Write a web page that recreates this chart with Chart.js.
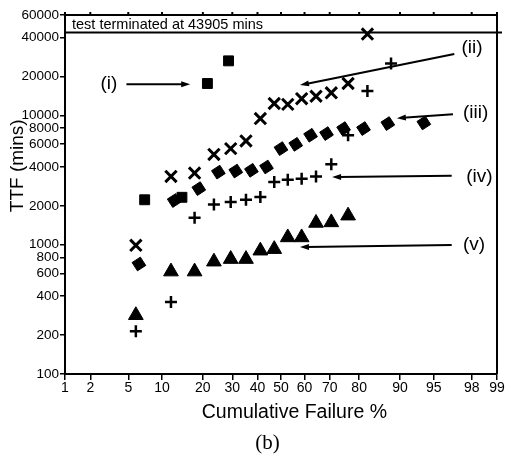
<!DOCTYPE html>
<html>
<head>
<meta charset="utf-8">
<script src="https://cdn.jsdelivr.net/npm/chart.js@4/dist/chart.umd.min.js"></script>
<style>
  html, body { margin: 0; padding: 0; background: #fff; }
  #wrap { width: 511px; height: 459px; }
</style>
</head>
<body>
<div id="wrap"><canvas id="ttfChart" width="511" height="459"></canvas></div>
<script>
// cumulative failure (%) and time to failure (mins)
const pctTicks = [1, 2, 5, 10, 20, 30, 40, 50, 60, 70, 80, 90, 95, 98, 99];
const ttfTicks = [100, 200, 400, 600, 800, 1000, 2000, 4000, 6000, 8000, 10000, 20000, 40000, 60000];
const terminatedAt = 43905;

const squarePct = [7.1, 14.3, 21.4, 28.6];
const squareTtf = [2230, 2330, 17700, 26500];

const crossPct = [5.9, 11.8, 17.6, 23.5, 29.4, 35.3, 41.2, 47.1, 52.9, 58.8, 64.7, 70.6, 76.5, 82.4];
const crossTtf = [990, 3380, 3590, 5000, 5550, 6360, 9480, 12400, 12200, 13500, 14100, 15000, 17700, 42700];

const diamondPct = [6.3, 12.5, 18.8, 25, 31.3, 37.5, 43.8, 50, 56.3, 62.5, 68.8, 75, 81.3, 87.5, 93.8];
const diamondTtf = [710, 2200, 2720, 3650, 3720, 3770, 4000, 5550, 5990, 7040, 7250, 7930, 7930, 8670, 8770];

const plusPct = [5.9, 11.8, 17.6, 23.5, 29.4, 35.3, 41.2, 47.1, 52.9, 58.8, 64.7, 70.6, 76.5, 82.4, 88.2];
const plusTtf = [214, 360, 1620, 2050, 2140, 2230, 2340, 3060, 3190, 3250, 3380, 4200, 7040, 15500, 25300];

const trianglePct = [5.9, 11.8, 17.6, 23.5, 29.4, 35.3, 41.2, 47.1, 52.9, 58.8, 64.7, 70.6, 76.5];
const triangleTtf = [285, 620, 620, 740, 775, 775, 900, 925, 1140, 1140, 1475, 1490, 1680];

// labels with arrows, in data units (pct, mins)
const labels = [
  { text: '(i)',   at: [3.9, 17500],  align: 'right', from: [4.8, 17500],  to: [16.4, 17500] },
  { text: '(ii)',  at: [97.4, 33200], align: 'left',  from: [96.9, 29900], to: [58.1, 17200] },
  { text: '(iii)', at: [97.5, 10600], align: 'left',  from: [96.8, 10240], to: [89.4, 9530] },
  { text: '(iv)',  at: [97.7, 3380],  align: 'left',  from: [96.7, 3415],  to: [70.9, 3340] },
  { text: '(v)',   at: [97.5, 1005],  align: 'left',  from: [96.7, 995],   to: [58.1, 961] }
];

// inverse normal cdf (Acklam)
function probit(p) {
  const a = [-3.969683028665376e+01, 2.209460984245205e+02, -2.759285104469687e+02, 1.383577518672690e+02, -3.066479806614716e+01, 2.506628277459239e+00];
  const b = [-5.447609879822406e+01, 1.615858368580409e+02, -1.556989798598866e+02, 6.680131188771972e+01, -1.328068155288572e+01];
  const c = [-7.784894002430293e-03, -3.223964580411365e-01, -2.400758277161838e+00, -2.549671324298062e+00, 4.374664141464968e+00, 2.938163982698783e+00];
  const d = [7.784695709041462e-03, 3.224671290700398e-01, 2.445134137142996e+00, 3.754408661907416e+00];
  const pl = 0.02425;
  let q, r;
  if (p < pl) {
    q = Math.sqrt(-2 * Math.log(p));
    return (((((c[0]*q+c[1])*q+c[2])*q+c[3])*q+c[4])*q+c[5]) / ((((d[0]*q+d[1])*q+d[2])*q+d[3])*q+1);
  }
  if (p <= 1 - pl) {
    q = p - 0.5; r = q * q;
    return (((((a[0]*r+a[1])*r+a[2])*r+a[3])*r+a[4])*r+a[5])*q / (((((b[0]*r+b[1])*r+b[2])*r+b[3])*r+b[4])*r+1);
  }
  q = Math.sqrt(-2 * Math.log(1 - p));
  return -(((((c[0]*q+c[1])*q+c[2])*q+c[3])*q+c[4])*q+c[5]) / ((((d[0]*q+d[1])*q+d[2])*q+d[3])*q+1);
}

function normCdf(z) {
  const t = 1 / (1 + 0.3275911 * Math.abs(z) / Math.SQRT2);
  const y = 1 - (((((1.061405429*t - 1.453152027)*t) + 1.421413741)*t - 0.284496736)*t + 0.254829592)*t*Math.exp(-z*z/2);
  return z >= 0 ? 0.5 * (1 + y) : 0.5 * (1 - y);
}

// normal probability paper axis
class ProbabilityScale extends Chart.Scale {
  determineDataLimits() {
    this.min = this.options.min ?? 1;
    this.max = this.options.max ?? 99;
  }
  buildTicks() {
    return pctTicks.map(v => ({ value: v }));
  }
  getLabelForValue(v) {
    return String(v);
  }
  getPixelForValue(v) {
    const z0 = probit(this.min / 100), z1 = probit(this.max / 100);
    return this.getPixelForDecimal((probit(v / 100) - z0) / (z1 - z0));
  }
  getValueForPixel(px) {
    const z0 = probit(this.min / 100), z1 = probit(this.max / 100);
    return 100 * normCdf(z0 + this.getDecimalForPixel(px) * (z1 - z0));
  }
}
ProbabilityScale.id = 'probability';
ProbabilityScale.defaults = {};
Chart.register(ProbabilityScale);

function points(xs, ys) {
  return xs.map((x, i) => ({ x: x, y: ys[i] }));
}

const sans = 'Liberation Sans, Arial, sans-serif';

const decorPlugin = {
  id: 'decor',
  afterDatasetsDraw(chart) {
    const { ctx, chartArea: a, scales: { x, y } } = chart;
    ctx.save();
    ctx.strokeStyle = '#000';
    ctx.fillStyle = '#000';
    ctx.lineWidth = 2;
    ctx.beginPath();
    ctx.moveTo(a.left, a.top);
    ctx.lineTo(a.right, a.top);
    ctx.lineTo(a.right, a.bottom);
    x.ticks.forEach((t, i) => {
      const px = x.getPixelForTick(i);
      ctx.moveTo(px, a.top);
      ctx.lineTo(px, a.top - 3);
    });
    const yl = y.getPixelForValue(terminatedAt);
    ctx.moveTo(a.left, yl);
    ctx.lineTo(a.right + 5, yl);
    ctx.stroke();

    ctx.font = '14.5px ' + sans;
    ctx.textBaseline = 'middle';
    ctx.textAlign = 'left';
    ctx.fillText('test terminated at ' + terminatedAt + ' mins', a.left + 7, (a.top + yl) / 2 + 1);

    // axis titles and caption, placed as in the original figure
    ctx.textAlign = 'center';
    ctx.font = '19.5px ' + sans;
    ctx.fillText('Cumulative Failure %', a.left + 0.531 * (a.right - a.left), a.bottom + 39);
    ctx.font = '21px Liberation Serif, Times New Roman, serif';
    ctx.fillText('(b)', a.left + 0.469 * (a.right - a.left), a.bottom + 69);

    ctx.save();
    ctx.translate(18, a.top + 0.42 * (a.bottom - a.top));
    ctx.rotate(-Math.PI / 2);
    ctx.font = '19px ' + sans;
    ctx.fillText('TTF (mins)', 0, 0);
    ctx.restore();

    ctx.font = '19px ' + sans;
    labels.forEach(l => {
      ctx.textAlign = l.align;
      ctx.fillText(l.text, x.getPixelForValue(l.at[0]), y.getPixelForValue(l.at[1]));
      const x0 = x.getPixelForValue(l.from[0]), y0 = y.getPixelForValue(l.from[1]);
      const x1 = x.getPixelForValue(l.to[0]), y1 = y.getPixelForValue(l.to[1]);
      const ang = Math.atan2(y1 - y0, x1 - x0);
      ctx.lineWidth = 2;
      ctx.beginPath();
      ctx.moveTo(x0, y0);
      ctx.lineTo(x1 - 6 * Math.cos(ang), y1 - 6 * Math.sin(ang));
      ctx.stroke();
      ctx.beginPath();
      ctx.moveTo(x1, y1);
      ctx.lineTo(x1 - 9 * Math.cos(ang) + 3 * Math.sin(ang), y1 - 9 * Math.sin(ang) - 3 * Math.cos(ang));
      ctx.lineTo(x1 - 9 * Math.cos(ang) - 3 * Math.sin(ang), y1 - 9 * Math.sin(ang) + 3 * Math.cos(ang));
      ctx.closePath();
      ctx.fill();
    });
    ctx.restore();
  }
};

document.addEventListener('DOMContentLoaded', function() {
  const ctx = document.getElementById('ttfChart');
  new Chart(ctx, {
    type: 'scatter',
    data: {
      datasets: [
        { label: '(i)', data: points(squarePct, squareTtf), pointStyle: 'rect', pointRadius: 7,
          backgroundColor: '#000', borderColor: '#000', borderWidth: 1 },
        { label: '(ii)', data: points(crossPct, crossTtf), pointStyle: 'crossRot', pointRadius: 8,
          backgroundColor: '#000', borderColor: '#000', borderWidth: 3 },
        { label: '(iii)', data: points(diamondPct, diamondTtf), pointStyle: 'rectRot', pointRadius: 7, rotation: 12,
          backgroundColor: '#000', borderColor: '#000', borderWidth: 1 },
        { label: '(iv)', data: points(plusPct, plusTtf), pointStyle: 'cross', pointRadius: 6,
          backgroundColor: '#000', borderColor: '#000', borderWidth: 2.5 },
        { label: '(v)', data: points(trianglePct, triangleTtf), pointStyle: 'triangle', pointRadius: 8.5,
          backgroundColor: '#000', borderColor: '#000', borderWidth: 1 }
      ]
    },
    options: {
      responsive: false,
      animation: false,
      layout: { padding: { left: 0, right: 14, top: 15, bottom: 35 } },
      plugins: {
        legend: { display: false },
        tooltip: { enabled: false },
        title: { display: false }
      },
      scales: {
        x: {
          type: 'probability', min: 1, max: 99,
          grid: { display: true, drawOnChartArea: false, drawTicks: true, tickLength: 6, color: '#000', lineWidth: 1.5 },
          border: { display: true, color: '#000', width: 2 },
          ticks: { color: '#000', font: { family: sans, size: 14 }, padding: 0, autoSkip: false, maxRotation: 0 },
          title: { display: false },
          afterFit: s => { s.height = 50; }
        },
        y: {
          type: 'logarithmic', min: 100, max: 60000,
          afterBuildTicks: s => { s.ticks = ttfTicks.map(v => ({ value: v })); },
          grid: { display: true, drawOnChartArea: false, drawTicks: true, tickLength: 5, color: '#000', lineWidth: 1.5 },
          border: { display: true, color: '#000', width: 2 },
          ticks: { color: '#000', font: { family: sans, size: 13.5 }, padding: 1, autoSkip: false,
                   callback: v => String(v) },
          title: { display: false },
          afterFit: s => { s.width = 65; }
        }
      }
    },
    plugins: [decorPlugin]
  });
});
</script>
</body>
</html>
